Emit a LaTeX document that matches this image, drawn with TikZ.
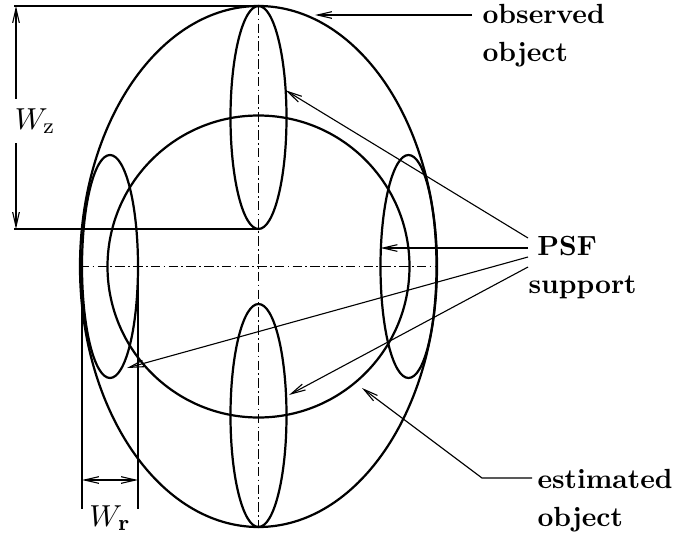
\documentclass[tikz,border=0pt]{standalone}
\usetikzlibrary{arrows.meta, shapes.geometric, calc}
\newlength\pxu
\setlength\pxu{0.361pt}

\begin{document}
\begin{tikzpicture}[
  x=\pxu, y=-\pxu,
  outline/.style={ellipse,draw,line width=0.8pt,inner sep=0pt,outer sep=0pt},
  psf/.style={outline,minimum width=56\pxu,minimum height=223\pxu},
  arr/.style={line width=0.4pt,-{Straight Barb[length=5.2pt,width=2.4pt]}},
  dimarr/.style={line width=0.4pt,-{Straight Barb[length=5.2pt,width=2.4pt]}},
  dimboth/.style={line width=0.4pt,
    {Straight Barb[length=5.2pt,width=2.4pt]}-{Straight Barb[length=5.2pt,width=2.4pt]}},
  ext/.style={line width=0.4pt},
  axis/.style={line width=0.6pt,dash pattern=on 3.4pt off 1.2pt on 0.6pt off 1.2pt},
  lbl/.style={font=\fontsize{10}{13.5}\selectfont\bfseries,align=left,
              anchor=north west,inner sep=0pt},
  dim/.style={font=\fontsize{11}{13}\selectfont,inner sep=0pt}
]
\useasboundingbox (0,0) rectangle (676,535);

% objects
\node[outline,minimum width=357\pxu,minimum height=521\pxu] (obsE) at (258.5,266.5) {};
\node[outline,circle,minimum size=302\pxu] (estC) at (258.5,266.5) {};

% PSF supports
\node[psf] (topE)   at (258.5,117.5) {};
\node[psf] (botE)   at (258.5,415.5) {};
\node[psf] (leftE)  at (110,266.5)   {};
\node[psf] (rightE) at (408.5,266.5) {};

% axes
\draw[axis] (obsE.north) -- (obsE.south);
\draw[axis] (obsE.west) -- (obsE.east);

% W_z
\draw[ext] (topE.north) -- ++(-245,0);
\draw[ext] (topE.south) -- ++(-245,0);
\coordinate (wzt) at ($(topE.north)+(-242.5,0)$);
\coordinate (wzb) at ($(topE.south)+(-242.5,0)$);
\node[dim,outer sep=3.4pt] (wz) at (35,121) {$W_\mathrm{z}$};
\draw[dimarr] (wz.north -| wzt) -- (wzt);
\draw[dimarr] (wz.south -| wzb) -- (wzb);

% W_r
\draw[ext] (leftE.west) -- ++(0,242);
\draw[ext] (leftE.east) -- ++(0,242);
\draw[dimboth] ($(leftE.west)+(0,213.5)$) -- ($(leftE.east)+(0,213.5)$);
\node[dim] (wr) at ($(leftE.south)+(0,140)$) {$W_\mathbf{r}$};

% labels
\node[lbl] (obs) at (482,4)   {observed\\object};
\node[lbl] (sup) at (528,236) {\hspace{3.2pt}PSF\\support};
\node[lbl] (est) at (537,469) {estimated\\object};

\draw[arr] ($(obs.north west)+(-10,11)$) -- ($(obsE.center)+(56.5,-251.5)$);
\draw[arr] ($(sup.north west)+(0,2)$)  -- (topE.45);
\draw[arr] ($(sup.north west)+(0,12)$) coordinate (h) -- (h -| rightE.west);
\draw[arr] ($(sup.north west)+(0,21)$) -- ($(leftE.center)+(17,101.5)$);
\draw[arr] ($(sup.north west)+(0,31)$) -- ($(botE.center)+(30.5,-20.5)$);
\draw[arr] ($(est.north west)+(-5,9)$) -- ++(-50,0) -- ($(estC.center)+(103.5,121.5)$);
\end{tikzpicture}
\end{document}
